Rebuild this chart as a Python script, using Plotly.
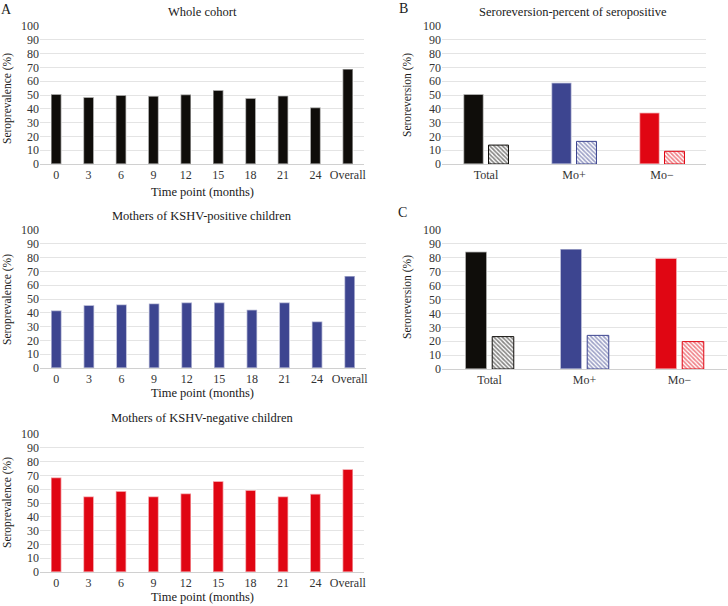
import plotly.graph_objects as go

W, H = 728, 606

timepoints = ["0", "3", "6", "9", "12", "15", "18", "21", "24", "Overall"]
whole_cohort = [50.6, 48.4, 49.9, 49.2, 50.4, 53.5, 47.7, 49.4, 41.0, 68.9]
mothers_pos = [41.7, 45.5, 46.0, 46.7, 47.5, 47.5, 42.2, 47.5, 33.7, 66.7]
mothers_neg = [68.4, 54.7, 58.6, 54.7, 56.9, 65.8, 59.3, 54.7, 56.6, 74.5]

groups = ["Total", "Mo+", "Mo\u2212"]
b_solid = [50.6, 58.8, 37.1]
b_hatched = [13.7, 16.4, 9.2]
c_solid = [84.4, 86.3, 79.6]
c_hatched = [23.3, 24.2, 19.7]

BLACK = "#0f0d0a"
BLUE = "#3d4590"
RED = "#e00613"
group_colors = [BLACK, BLUE, RED]

FONT = "Liberation Serif"
TICK_C = "#333333"
TXT_C = "#1a1a1a"
GRID_C = "#e4e4e4"


def xd(a, b):
    return [a / W, b / W]


def yd(top, bottom):
    return [1 - bottom / H, 1 - top / H]


fig = go.Figure()

panels_a = [
    (whole_cohort, BLACK, "x", "y"),
    (mothers_pos, BLUE, "x2", "y2"),
    (mothers_neg, RED, "x3", "y3"),
]
for vals, col, xa, ya in panels_a:
    fig.add_trace(go.Bar(
        x=timepoints, y=vals, xaxis=xa, yaxis=ya, width=0.32,
        marker=dict(color=col, line=dict(color="rgba(255,255,255,0.55)", width=1.5)),
        showlegend=False, hoverinfo="x+y"))

for solid, hatched, xa, ya in [(b_solid, b_hatched, "x4", "y4"), (c_solid, c_hatched, "x5", "y5")]:
    fig.add_trace(go.Bar(
        x=groups, y=solid, xaxis=xa, yaxis=ya, width=0.227, offset=-0.2555,
        marker=dict(color=group_colors, line=dict(color="rgba(255,255,255,0.55)", width=1.5)),
        showlegend=False))
    fig.add_trace(go.Bar(
        x=groups, y=hatched, xaxis=xa, yaxis=ya, width=0.227, offset=0.0285,
        marker=dict(color="white",
                    line=dict(color=group_colors, width=1),
                    pattern=dict(shape="\\", fgcolor=group_colors, bgcolor="white",
                                 size=3, solidity=0.55, fillmode="overlay")),
        showlegend=False))

common_x = dict(showgrid=False, zeroline=False, showline=True, linecolor="#d0d0d0",
                linewidth=1, ticks="", tickfont=dict(family=FONT, size=12, color=TICK_C),
                fixedrange=True, automargin=False)
common_y = dict(range=[0, 100], tickvals=list(range(0, 101, 10)), showgrid=True,
                gridcolor=GRID_C, gridwidth=1, zeroline=False, showline=False, ticks="",
                tickfont=dict(family=FONT, size=12, color=TICK_C), fixedrange=True,
                automargin=False)

domains = {
    "": (xd(40, 364), yd(26, 164)),
    "2": (xd(40, 366), yd(230, 368)),
    "3": (xd(40, 364), yd(434, 572)),
    "4": (xd(442, 706), yd(26, 164)),
    "5": (xd(442, 727), yd(230, 369)),
}
layout_axes = {}
for k, (dx, dy) in domains.items():
    ax = "x" + k
    ay = "y" + k
    layout_axes["xaxis" + k] = dict(common_x, domain=dx, anchor=ay)
    layout_axes["yaxis" + k] = dict(common_y, domain=dy, anchor=ax)

fig.update_layout(**layout_axes)

ann = []


def text(x, y, s, size=12, angle=0, color=TXT_C):
    ann.append(dict(x=x / W, y=1 - y / H, xref="paper", yref="paper", text=s,
                    showarrow=False, xanchor="center", yanchor="middle", textangle=angle,
                    font=dict(family=FONT, size=size, color=color)))


# panel letters
text(6, 9, "A", 14)
text(403, 8, "B", 14)
text(402, 212, "C", 14)
# titles
text(202, 12, "Whole cohort", 12.5)
text(202, 216, "Mothers of KSHV-positive children", 12.5)
text(202, 418, "Mothers of KSHV-negative children", 12.5)
text(573, 12, "Seroreversion-percent of seropositive", 12.5)
# y titles
text(7, 99, "Seroprevalence (%)", 11.5, -90)
text(7, 300, "Seroprevalence (%)", 11.5, -90)
text(7, 503, "Seroprevalence (%)", 11.5, -90)
text(407, 95, "Seroreversion (%)", 11.5, -90)
text(407, 297, "Seroreversion (%)", 11.5, -90)
# x titles
text(202, 192, "Time point (months)", 12.5)
text(202, 393, "Time point (months)", 12.5)
text(202, 597, "Time point (months)", 12.5)

fig.update_layout(
    annotations=ann, width=W, height=H, margin=dict(l=0, r=0, t=0, b=0, autoexpand=False),
    paper_bgcolor="white", plot_bgcolor="white", barmode="overlay",
    font=dict(family=FONT, color=TXT_C), showlegend=False,
)

fig.write_html("out.html", config={"displayModeBar": False},
               post_script="document.body.style.margin='0';document.body.style.padding='0';")
